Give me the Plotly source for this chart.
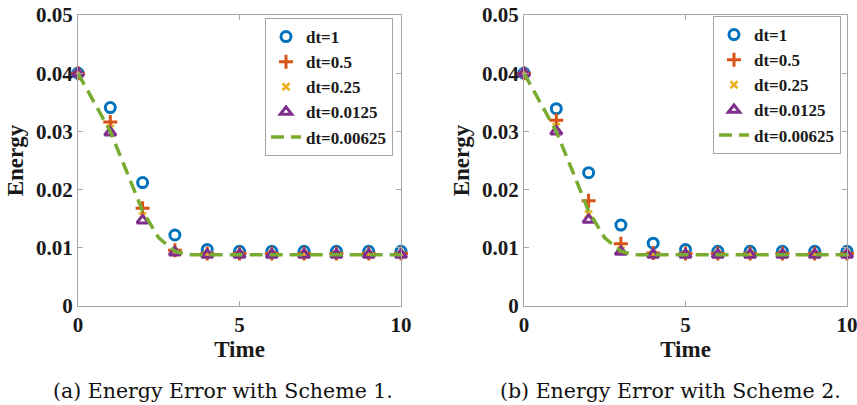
import plotly.graph_objects as go

time = [0, 1, 2, 3, 4, 5, 6, 7, 8, 9, 10]

# Scheme 1
a_dt1 = [0.0400, 0.0341, 0.0212, 0.0122, 0.0097, 0.0094, 0.0094, 0.0094, 0.0094, 0.0094, 0.0094]
a_dt05 = [0.0400, 0.0316, 0.0168, 0.0096, 0.0090, 0.0090, 0.0090, 0.0090, 0.0090, 0.0090, 0.0090]
a_dt025 = [0.0400, 0.0305, 0.0155, 0.0093, 0.0089, 0.0089, 0.0089, 0.0089, 0.0089, 0.0089, 0.0089]
a_dt0125 = [0.0400, 0.0298, 0.0147, 0.0092, 0.0088, 0.0088, 0.0088, 0.0088, 0.0088, 0.0088, 0.0088]

# Scheme 2
b_dt1 = [0.0400, 0.0339, 0.0229, 0.0139, 0.0108, 0.0097, 0.0094, 0.0094, 0.0094, 0.0094, 0.0094]
b_dt05 = [0.0400, 0.0319, 0.0181, 0.0107, 0.0091, 0.0090, 0.0090, 0.0090, 0.0090, 0.0090, 0.0090]
b_dt025 = [0.0400, 0.0308, 0.0158, 0.0096, 0.0089, 0.0089, 0.0089, 0.0089, 0.0089, 0.0089, 0.0089]
b_dt0125 = [0.0400, 0.0300, 0.0148, 0.0093, 0.0088, 0.0088, 0.0088, 0.0088, 0.0088, 0.0088, 0.0088]

# finest step
fine_t = [0, 0.5, 1, 1.5, 2, 2.5, 3, 3.25, 3.5, 4, 5, 6, 7, 8, 9, 10]
fine_e = [0.0400, 0.0350, 0.0300, 0.0232, 0.0163, 0.0117, 0.0094, 0.0090, 0.0088, 0.0088,
          0.0088, 0.0088, 0.0088, 0.0088, 0.0088, 0.0088]

labels = ["dt=1", "dt=0.5", "dt=0.25", "dt=0.0125", "dt=0.00625"]
captions = ["(a) Energy Error with Scheme 1.", "(b) Energy Error with Scheme 2."]
x_ticks = [0, 5, 10]
x_ticktext = ["0", "5", "10"]
y_ticks = [0, 0.01, 0.02, 0.03, 0.04, 0.05]
y_ticktext = ["0", "0.01", "0.02", "0.03", "0.04", "0.05"]

C_BLUE = "#0072BD"
C_ORANGE = "#D95319"
C_YELLOW = "#EDB120"
C_PURPLE = "#7E2F8E"
C_GREEN = "#77AC30"

W, H = 857, 405
FONT = "Liberation Serif"

fig = go.Figure()

panels = [
    (a_dt1, a_dt05, a_dt025, a_dt0125, "x", "y", "legend"),
    (b_dt1, b_dt05, b_dt025, b_dt0125, "x2", "y2", "legend2"),
]

for d1, d05, d025, d0125, xa, ya, lg in panels:
    fig.add_trace(go.Scatter(x=time, y=d1, mode="markers", name=labels[0], xaxis=xa, yaxis=ya, legend=lg,
                             marker=dict(symbol="circle-open", size=10, color=C_BLUE, line=dict(width=3, color=C_BLUE)),
                             cliponaxis=False))
    fig.add_trace(go.Scatter(x=time, y=d05, mode="markers", name=labels[1], xaxis=xa, yaxis=ya, legend=lg,
                             marker=dict(symbol="cross-thin-open", size=10, color=C_ORANGE, line=dict(width=3, color=C_ORANGE)),
                             cliponaxis=False))
    fig.add_trace(go.Scatter(x=time, y=d025, mode="markers", name=labels[2], xaxis=xa, yaxis=ya, legend=lg,
                             marker=dict(symbol="x-thin-open", size=7, color=C_YELLOW, line=dict(width=2.5, color=C_YELLOW)),
                             cliponaxis=False))
    fig.add_trace(go.Scatter(x=time, y=d0125, mode="markers", name=labels[3], xaxis=xa, yaxis=ya, legend=lg,
                             marker=dict(symbol="triangle-up-open", size=10, color=C_PURPLE, line=dict(width=3, color=C_PURPLE)),
                             cliponaxis=False))
    fig.add_trace(go.Scatter(x=fine_t, y=fine_e, mode="lines", name=labels[4], xaxis=xa, yaxis=ya, legend=lg,
                             line=dict(color=C_GREEN, width=3.5, dash="13px,7px"),
                             cliponaxis=False))

def px_x(p):
    return p / W

def px_y(p):
    return (H - p) / H

axis_common = dict(
    showline=True, linecolor="#a6a6a6", linewidth=1, mirror="ticks",
    ticks="inside", ticklen=5, tickcolor="#a6a6a6", showgrid=False, zeroline=False,
    automargin=False, ticklabeloverflow="allow",
    tickfont=dict(family=FONT, size=21, color="#1a1a1a", weight="bold"),
)

xtitle = dict(text="Time", font=dict(family=FONT, size=23, color="#1a1a1a", weight="bold"), standoff=4)
ytitle = dict(text="Energy", font=dict(family=FONT, size=23, color="#1a1a1a", weight="bold"), standoff=5)

legend_common = dict(xanchor="right", yanchor="top",
                     bgcolor="white", bordercolor="#a6a6a6", borderwidth=1,
                     font=dict(family=FONT, size=17, color="#1a1a1a", weight="bold"),
                     itemwidth=30, tracegroupgap=0, traceorder="normal")

fig.update_layout(
    width=W, height=H,
    margin=dict(l=0, r=0, t=0, b=0, autoexpand=False),
    paper_bgcolor="white", plot_bgcolor="white",
    xaxis=dict(domain=[px_x(78), px_x(401)], range=[0, 10], tickvals=x_ticks, ticktext=x_ticktext,
               anchor="y", title=xtitle, **axis_common),
    yaxis=dict(domain=[px_y(306), px_y(15)], range=[0, 0.05], tickvals=y_ticks, ticktext=y_ticktext,
               anchor="x", title=ytitle, **axis_common),
    xaxis2=dict(domain=[px_x(524), px_x(847)], range=[0, 10], tickvals=x_ticks, ticktext=x_ticktext,
                anchor="y2", title=xtitle, **axis_common),
    yaxis2=dict(domain=[px_y(306), px_y(15)], range=[0, 0.05], tickvals=y_ticks, ticktext=y_ticktext,
                anchor="x2", title=ytitle, **axis_common),
    legend=dict(x=px_x(393), y=px_y(18), **legend_common),
    legend2=dict(x=px_x(841), y=px_y(16), **legend_common),
    showlegend=True,
)

fig.add_annotation(text=captions[0], x=px_x(223), y=px_y(391), xref="paper", yref="paper",
                   showarrow=False, xanchor="center", yanchor="middle",
                   font=dict(family="DejaVu Serif", size=20.5, color="#111"))
fig.add_annotation(text=captions[1], x=px_x(670), y=px_y(391), xref="paper", yref="paper",
                   showarrow=False, xanchor="center", yanchor="middle",
                   font=dict(family="DejaVu Serif", size=20.5, color="#111"))

fig.write_html("out.html", config={"displayModeBar": False},
               post_script="document.body.style.margin='0px';document.body.style.overflow='hidden';")
